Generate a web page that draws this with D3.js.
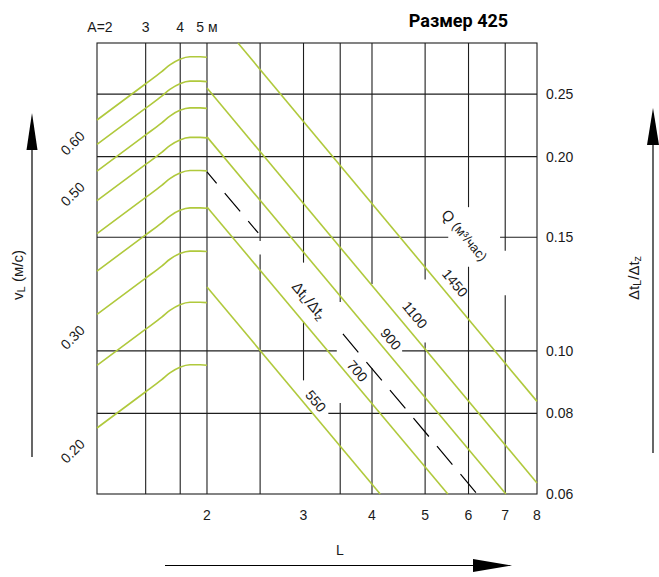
<!DOCTYPE html>
<html><head><meta charset="utf-8">
<script src="https://cdn.jsdelivr.net/npm/d3@7"></script>
<style>
html,body{margin:0;padding:0;background:#fff;}
svg{display:block;font-family:"Liberation Sans",Arial,sans-serif;}
</style></head><body>
<svg id="chart" width="659" height="577"></svg>
<script>
// ---------- data ----------
const titleText = "Размер 425";
const ratioTicks = [0.25, 0.20, 0.15, 0.10, 0.08, 0.06];
const ratioTickLabels = ["0.25", "0.20", "0.15", "0.10", "0.08", "0.06"];
const ratioGrid = [0.25, 0.20, 0.15, 0.10, 0.08];
const lTicks = [2, 3, 4, 5, 6, 7, 8];
const lGrid = [2, 2.5, 3, 3.5, 4, 5, 6, 7];
const aTicks = [2, 3, 4, 5];
const aTickLabels = ["A=2", "3", "4", "5 м"];
const aGrid = [3, 4];
const vLines = [0.20, 0.25, 0.30, 0.35, 0.40, 0.45, 0.50, 0.55, 0.60];
const vLabelValues = [0.60, 0.50, 0.30, 0.20];
const vLabelText = ["0.60", "0.50", "0.30", "0.20"];
const humpA = [2, 3.0, 3.43, 3.67, 3.99, 4.34, 4.72, 5.0];
const humpGain = [1, 1.138, 1.188, 1.217, 1.242, 1.253, 1.253, 1.251];
const qValues = ["1450", "1100", "900", "700", "550"];
const qStartL = [2.278, 2, 2, 2, 2];
const qStartR = [0.30, 0.2555, 0.2146, 0.1671, 0.1256];
const qEndL = [8, 8, 7.02, 5.50, 4.14];
const qEndR = [0.0835, 0.0624, 0.06, 0.06, 0.06];
const qLabelL = [5.67, 4.79, 4.33, 3.76, 3.16];
const qLabelR = [0.1274, 0.1137, 0.1043, 0.0931, 0.0836];
const indexStartL = 2, indexStartR = 0.1894, indexEndL = 6.22, indexEndR = 0.06;
const indexBreakL = [2.48, 3.54];
const indexLabelL = 3.08, indexLabelR = 0.1199;
const qTitleL = 5.91, qTitleR = 0.1512;
// gaps in the grid (vertical lines: ratio ranges; horizontal lines: L ranges)
const vGapL = [2.5, 3, 3, 3.5, 4, 5, 6, 7];
const vGapHi = [0.148, 0.137, 0.090, 0.119, 0.127, 0.129, 0.167, 0.143];
const vGapLo = [0.141, 0.111, 0.060, 0.083, 0.094, 0.103, 0.135, 0.122];
const hGapR = [0.15, 0.10, 0.08];
const hGapFrom = [5.51, 3.45, 3.11];
const hGapTo = [6.85, 4.54, 3.33];

// ---------- layout ----------
const pL = 97, pR = 537, pT = 43, pB = 494;
const svg = d3.select("#chart");
const x = d3.scaleLog().domain([1.26, 8]).range([pL, pR]);
const xa = d3.scaleLog().domain([2, 5]).range([pL, 207]);
const y = d3.scaleLog().domain([0.06, 0.30]).range([pB, pT]);
const yv = d3.scaleLog().domain([0.2, 0.6]).range([428, 120]);

const gridColor = "#1e1e1e", green = "#b0c93c";
const g = svg.append("g");

function segs(a, b, gaps) {
  const gs = gaps.map(d => [Math.min(d[0], d[1]), Math.max(d[0], d[1])]).sort((m, n) => m[0] - n[0]);
  const out = []; let cur = a;
  gs.forEach(([p, q]) => { if (p > cur) out.push([cur, p]); cur = Math.max(cur, q); });
  if (cur < b) out.push([cur, b]);
  return out;
}
aGrid.forEach(a => {
  g.append("line").attr("x1", xa(a)).attr("x2", xa(a)).attr("y1", pT).attr("y2", pB)
    .attr("stroke", gridColor).attr("stroke-width", 1.1);
});
lGrid.forEach(L => {
  const gaps = [];
  vGapL.forEach((v, i) => { if (v === L) gaps.push([y(vGapHi[i]), y(vGapLo[i])]); });
  segs(pT, pB, gaps).forEach(([p, q]) => {
    g.append("line").attr("x1", x(L)).attr("x2", x(L)).attr("y1", p).attr("y2", q)
      .attr("stroke", gridColor).attr("stroke-width", 1.1);
  });
});
ratioGrid.forEach(r => {
  const gaps = [];
  hGapR.forEach((v, i) => { if (v === r) gaps.push([x(hGapFrom[i]), x(hGapTo[i])]); });
  segs(pL, pR, gaps).forEach(([p, q]) => {
    g.append("line").attr("x1", p).attr("x2", q).attr("y1", y(r)).attr("y2", y(r))
      .attr("stroke", gridColor).attr("stroke-width", 1.1);
  });
});
g.append("rect").attr("x", pL).attr("y", pT).attr("width", pR - pL).attr("height", pB - pT)
  .attr("fill", "none").attr("stroke", gridColor).attr("stroke-width", 1.1);

// v_L curves
const humpLine = d3.line().curve(d3.curveMonotoneX);
vLines.forEach(v => {
  const pts = humpA.map((a, i) => [xa(a), yv(v * humpGain[i])]);
  g.append("path").attr("d", humpLine(pts)).attr("fill", "none")
    .attr("stroke", green).attr("stroke-width", 1.6);
});

// Q lines
qValues.forEach((q, i) => {
  g.append("line").attr("x1", x(qStartL[i])).attr("y1", y(qStartR[i]))
    .attr("x2", x(qEndL[i])).attr("y2", y(qEndR[i]))
    .attr("stroke", green).attr("stroke-width", 1.6);
});
const idxR = L => Math.exp(Math.log(indexStartR) + (Math.log(indexEndR) - Math.log(indexStartR)) *
  (Math.log(L) - Math.log(indexStartL)) / (Math.log(indexEndL) - Math.log(indexStartL)));
[[indexStartL, indexBreakL[0], 9], [indexBreakL[1], indexEndL, 0]].forEach(([a, b, off]) => {
  g.append("line").attr("x1", x(a)).attr("y1", y(idxR(a))).attr("x2", x(b)).attr("y2", y(idxR(b)))
    .attr("stroke", "#000").attr("stroke-width", 1.2)
    .attr("stroke-dasharray", "24,12.6").attr("stroke-dashoffset", off);
});

const ang = Math.atan2(y(qEndR[1]) - y(qStartR[1]), x(qEndL[1]) - x(qStartL[1])) * 180 / Math.PI;
const textCol = "#1a1a1a";
qValues.forEach((q, i) => {
  g.append("text").attr("transform", `translate(${x(qLabelL[i])},${y(qLabelR[i])}) rotate(${ang})`)
    .attr("text-anchor", "middle").attr("dominant-baseline", "central")
    .attr("font-size", 14).attr("fill", textCol).text(q);
});
function ratioLabel(sel, size, sub) {
  sel.append("tspan").text("Δt");
  sel.append("tspan").attr("font-size", sub).attr("dy", size * 0.28).text("L");
  sel.append("tspan").attr("dy", -size * 0.28).text("/Δt");
  sel.append("tspan").attr("font-size", sub).attr("dy", size * 0.28).text("z");
}
{
  const t = g.append("text").attr("transform", `translate(${x(indexLabelL)},${y(indexLabelR)}) rotate(${ang})`)
    .attr("text-anchor", "middle").attr("dominant-baseline", "central").attr("font-size", 15).attr("fill", textCol);
  ratioLabel(t, 15, 11);
}
{
  const t = g.append("text").attr("transform", `translate(${x(qTitleL)},${y(qTitleR)}) rotate(${ang})`)
    .attr("text-anchor", "middle").attr("dominant-baseline", "central").attr("font-size", 15).attr("fill", textCol);
  t.append("tspan").text("Q ");
  t.append("tspan").attr("font-size", 13).text("(м³/час)");
}

ratioTicks.forEach((r, i) => {
  g.append("text").attr("x", 546).attr("y", y(r)).attr("dominant-baseline", "central")
    .attr("font-size", 14).attr("fill", textCol).text(ratioTickLabels[i]);
});
lTicks.forEach(L => {
  g.append("text").attr("x", x(L)).attr("y", 520).attr("text-anchor", "middle")
    .attr("font-size", 14).attr("fill", textCol).text(L);
});
aTicks.forEach((a, i) => {
  g.append("text").attr("x", xa(a) + (i === 0 ? 3 : 0)).attr("y", 32).attr("text-anchor", "middle")
    .attr("font-size", 14).attr("fill", textCol).text(aTickLabels[i]);
});
vLabelValues.forEach((v, i) => {
  g.append("text").attr("transform", `translate(72.5,${yv(v) + 23}) rotate(-45)`)
    .attr("text-anchor", "middle").attr("dominant-baseline", "central")
    .attr("font-size", 14).attr("fill", textCol).text(vLabelText[i]);
});
g.append("text").attr("x", 458.5).attr("y", 27).attr("text-anchor", "middle")
  .attr("font-family", "Roboto, 'Liberation Sans', sans-serif").attr("font-weight", "bold")
  .attr("font-size", 18).attr("fill", "#000").text(titleText);

{
  const t = g.append("text").attr("transform", "translate(16.5,275) rotate(-90)")
    .attr("text-anchor", "middle").attr("dominant-baseline", "central").attr("font-size", 15).attr("fill", textCol);
  t.append("tspan").text("v");
  t.append("tspan").attr("font-size", 11).attr("dy", 4).text("L");
  t.append("tspan").attr("dy", -4).text(" (м/с)");
}
{
  const t = g.append("text").attr("transform", "translate(633,278) rotate(-90)")
    .attr("text-anchor", "middle").attr("dominant-baseline", "central").attr("font-size", 15).attr("fill", textCol);
  ratioLabel(t, 15, 11);
}
g.append("text").attr("x", 340).attr("y", 555).attr("text-anchor", "middle")
  .attr("font-size", 14).attr("fill", textCol).text("L");

g.append("line").attr("x1", 32).attr("x2", 32).attr("y1", 457).attr("y2", 148).attr("stroke", "#000").attr("stroke-width", 1.2);
g.append("path").attr("d", "M32,113 L26.5,150 L37.5,150 Z").attr("fill", "#000");
g.append("line").attr("x1", 653).attr("x2", 653).attr("y1", 453).attr("y2", 143).attr("stroke", "#000").attr("stroke-width", 1.2);
g.append("path").attr("d", "M653,108 L647,145 L659,145 Z").attr("fill", "#000");
g.append("line").attr("x1", 165).attr("x2", 475).attr("y1", 565.5).attr("y2", 565.5).attr("stroke", "#000").attr("stroke-width", 1.2);
g.append("path").attr("d", "M512,565.5 L473,559 L473,572 Z").attr("fill", "#000");
</script>
</body></html>
